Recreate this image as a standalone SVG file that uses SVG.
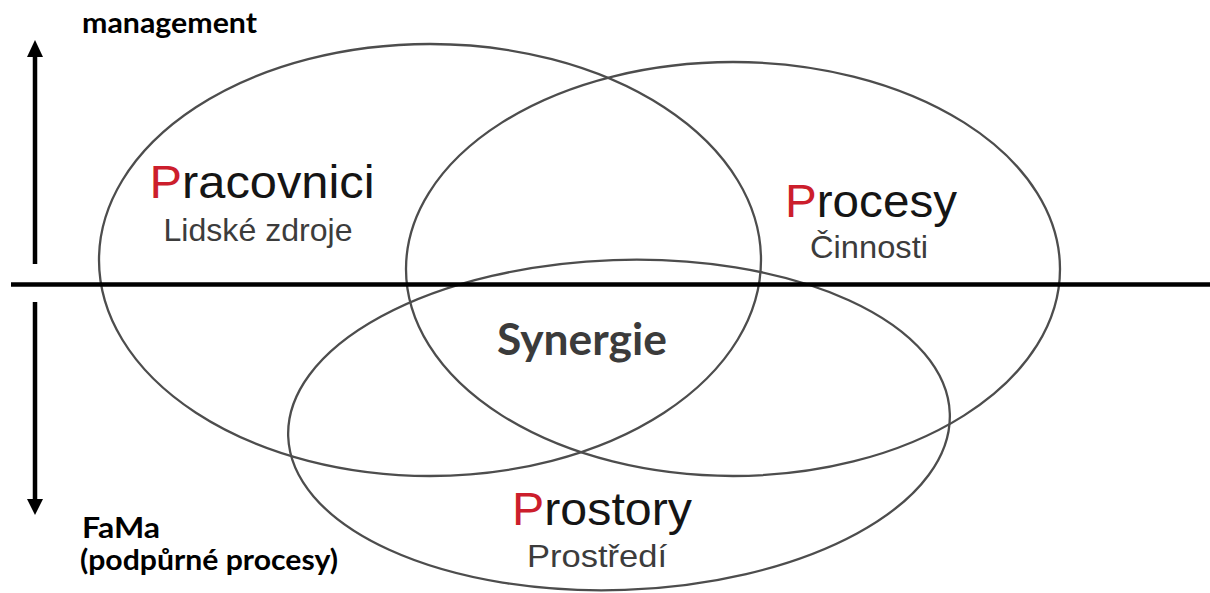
<svg xmlns="http://www.w3.org/2000/svg" width="1210" height="593" viewBox="0 0 1210 593">
  <style>
    .ring { fill: none; stroke: #4d4d4d; stroke-width: 2.3; }
    .axis { stroke: #000; stroke-width: 4.5; }
    .head { fill: #000; }
    .title { font-family: "Liberation Sans", Arial, sans-serif; font-size: 47px; fill: #151515; }
    .first { fill: #cc1e2c; }
    .sub { font-family: "Liberation Sans", Arial, sans-serif; font-size: 32px; fill: #3c3c3c; }
    .note { font-family: Lato, "Open Sans", sans-serif; font-weight: bold; font-size: 28px; fill: #000; }
    .core { font-family: Lato, "Open Sans", sans-serif; font-weight: bold; font-size: 44px; fill: #3b3b3b; }
  </style>
  <rect width="1210" height="593" fill="#fff"/>

  <!-- three overlapping sets -->
  <g id="pracovnici">
    <ellipse class="ring" cx="430" cy="260" rx="331" ry="216"/>
    <text class="title" x="262" y="198" text-anchor="middle" textLength="225" lengthAdjust="spacingAndGlyphs"><tspan class="first">P</tspan>racovnici</text>
    <text class="sub" x="258" y="241" text-anchor="middle" textLength="189" lengthAdjust="spacingAndGlyphs">Lidské zdroje</text>
  </g>
  <g id="procesy">
    <ellipse class="ring" cx="733" cy="269" rx="327" ry="207"/>
    <text class="title" x="871" y="217" text-anchor="middle" textLength="172" lengthAdjust="spacingAndGlyphs"><tspan class="first">P</tspan>rocesy</text>
    <text class="sub" x="869" y="258" text-anchor="middle" textLength="118" lengthAdjust="spacingAndGlyphs">Činnosti</text>
  </g>
  <g id="prostory">
    <ellipse class="ring" cx="619" cy="425" rx="331" ry="165" transform="rotate(-2 619 425)"/>
    <text class="title" x="602" y="525" text-anchor="middle" textLength="180" lengthAdjust="spacingAndGlyphs"><tspan class="first">P</tspan>rostory</text>
    <text class="sub" x="597" y="567" text-anchor="middle" textLength="140" lengthAdjust="spacingAndGlyphs">Prostředí</text>
  </g>
  <g id="synergie">
    <text class="core" x="582" y="355" text-anchor="middle" textLength="170" lengthAdjust="spacingAndGlyphs">Synergie</text>
  </g>

  <!-- level axis -->
  <g id="connectors">
    <line class="axis" x1="11" y1="284.5" x2="1210" y2="284.5"/>
    <line class="axis" x1="35" y1="264" x2="35" y2="55"/>
    <polygon class="head" points="35,40 27,57 43,57"/>
    <line class="axis" x1="35" y1="302" x2="35" y2="502"/>
    <polygon class="head" points="35,515 27,499 43,499"/>
  </g>

  <g id="management">
    <text class="note" x="82" y="33" textLength="175" lengthAdjust="spacingAndGlyphs">management</text>
  </g>
  <g id="fama">
    <text class="note" x="82" y="538" textLength="78" lengthAdjust="spacingAndGlyphs">FaMa</text>
    <text class="note" x="80" y="570" textLength="258" lengthAdjust="spacingAndGlyphs">(podpůrné procesy)</text>
  </g>
</svg>
